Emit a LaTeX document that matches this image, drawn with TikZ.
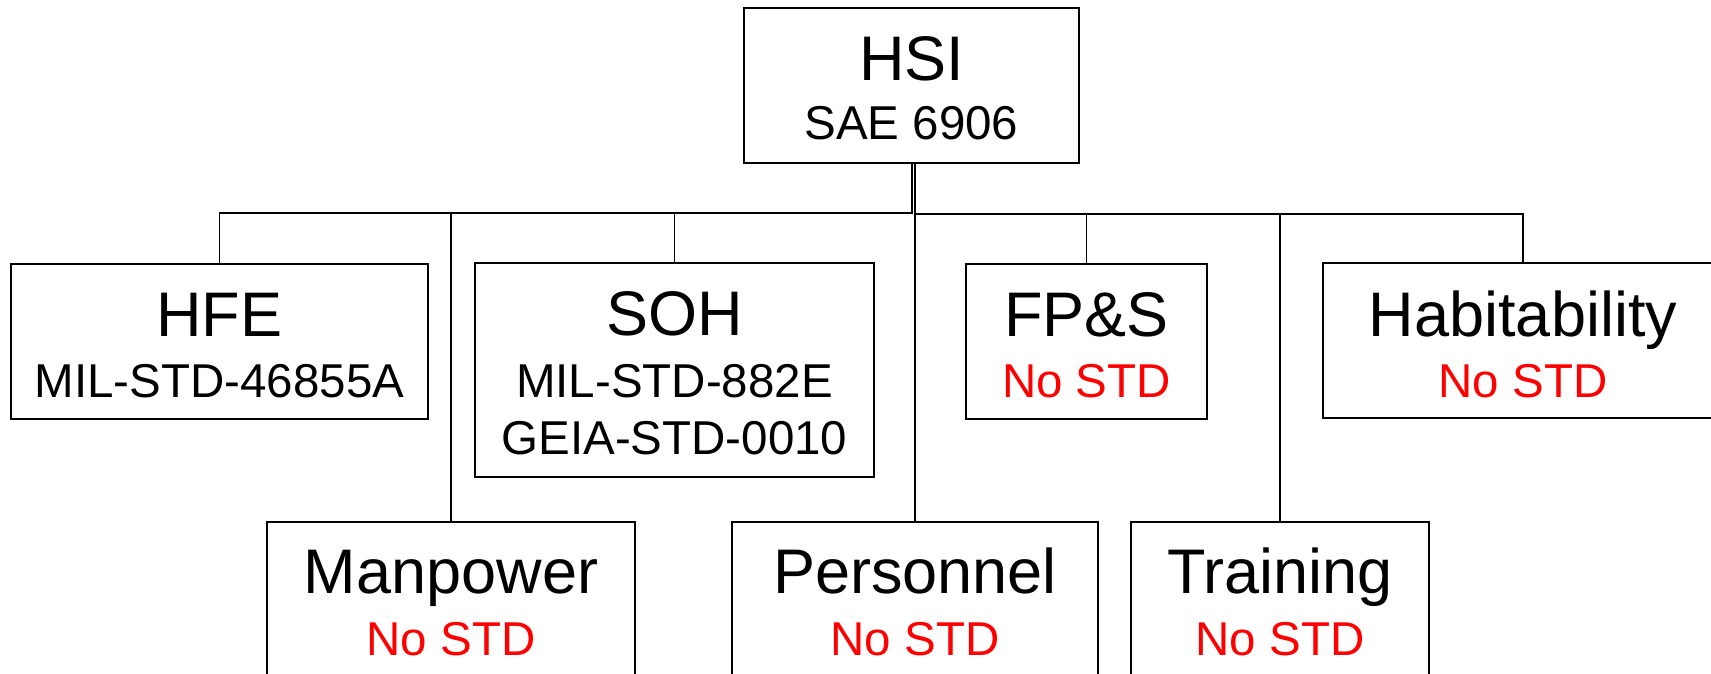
\documentclass[tikz,border=0pt]{standalone}
\usepackage{fontspec}
\setmainfont{Liberation Sans}
\tikzset{
  box/.style={draw=black, line width=1.8pt, fill=none, inner sep=0pt, rectangle},
  ttl/.style={anchor=base, inner sep=0pt, font=\fontsize{63pt}{70pt}\selectfont},
  sub/.style={anchor=base, inner sep=0pt, font=\fontsize{47.5pt}{57pt}\selectfont},
  nostd/.style={sub, text={rgb,255:red,255;green,0;blue,0}},
  conn/.style={draw=black, line width=1.8pt}
}
\begin{document}
\begin{tikzpicture}[x=1pt, y=-1pt]
\useasboundingbox (0,0) rectangle (1711,674);
\clip (0,0) rectangle (1711,674);
\fill[white] (0,0) rectangle (1711,674);
% boxes
\node[box, minimum width=335pt, minimum height=155pt] (hsi) at (911.5,85.5) {};
\node[box, minimum width=417pt, minimum height=155pt] (hfe) at (219.5,341.5) {};
\node[box, minimum width=399pt, minimum height=214pt] (soh) at (674.5,370) {};
\node[box, minimum width=241pt, minimum height=155pt] (fps) at (1086.5,341.5) {};
\node[box, minimum width=400pt, minimum height=155pt] (hab) at (1523,340.5) {};
\node[box, minimum width=368pt, minimum height=156pt] (man) at (451,600) {};
\node[box, minimum width=366pt, minimum height=156pt] (per) at (915,600) {};
\node[box, minimum width=298pt, minimum height=156pt] (trn) at (1280,600) {};
% texts
\node[ttl] (hsiT) at (911.5,81) {HSI};
\node[sub] (hsiS) at (911.5,140) {SAE 6906};
\node[ttl] (hfeT) at (219.5,336) {HFE};
\node[sub] (hfeS) at (219.5,397) {MIL-STD-46855A};
\node[ttl] (sohT) at (674.5,335) {SOH};
\node[sub] (sohS1) at (674.5,397) {MIL-STD-882E};
\node[sub] (sohS2) at (674.5,454) {GEIA-STD-0010};
\node[ttl] (fpsT) at (1086.5,336) {FP\&S};
\node[nostd] (fpsS) at (1086.5,397) {No STD};
\node[ttl] (habT) at (1523,336) {Habitability};
\node[nostd] (habS) at (1523,397) {No STD};
\node[ttl] (manT) at (451,593) {Manpower};
\node[nostd] (manS) at (451,655) {No STD};
\node[ttl] (perT) at (915,593) {Personnel};
\node[nostd] (perS) at (915,655) {No STD};
\node[ttl] (trnT) at (1280,593) {Training};
\node[nostd] (trnS) at (1280,655) {No STD};
% connectors
\coordinate (jL) at (912,213);
\coordinate (jR) at (915,214);
\draw[conn] (hsi.south -| jL) -- (jL) -| (hfe.north);
\draw[conn] (jL) -| (soh.north);
\draw[conn] (jL) -| (man.north);
\draw[conn] (hsi.south -| jR) -- (per.north);
\draw[conn] (jR) -| (fps.north);
\draw[conn] (jR) -| (trn.north);
\draw[conn] (jR) -| (hab.north);
\end{tikzpicture}
\end{document}
